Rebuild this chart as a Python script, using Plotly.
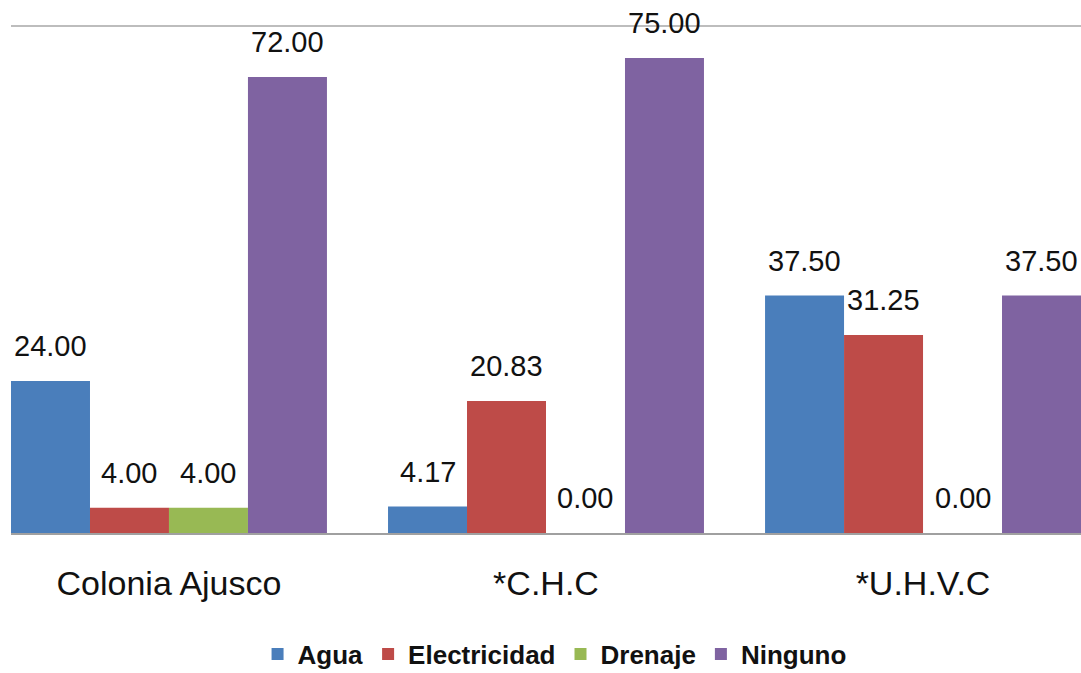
import plotly.graph_objects as go

categories = ["Colonia Ajusco", "*C.H.C", "*U.H.V.C"]
series_names = ["Agua", "Electricidad", "Drenaje", "Ninguno"]
agua = [24.00, 4.17, 37.50]
electricidad = [4.00, 20.83, 31.25]
drenaje = [4.00, 0.00, 0.00]
ninguno = [72.00, 75.00, 37.50]

series_values = [agua, electricidad, drenaje, ninguno]
colors = ["#4A7EBB", "#BE4B48", "#98B954", "#7F63A1"]

W, H = 1081, 673
ml, mr, mt, mb = 11, 0, 20, 140
plot_w = W - ml - mr
plot_h = H - mt - mb
bargap = 0.162
# x range so that the first bar starts at the left edge of the plot
half_group = (1 - bargap) / 2
xr = [-half_group, len(categories) - 1 + half_group]
px_per_cat = plot_w / (xr[1] - xr[0])
bar_px = px_per_cat * (1 - bargap) / len(series_names)

fig = go.Figure()
label_font = dict(family="Liberation Sans, Arial, sans-serif", size=29, color="#111111")
for i, (name, vals, col) in enumerate(zip(series_names, series_values, colors)):
    fig.add_trace(go.Bar(
        name=name, x=list(range(len(categories))), y=vals,
        marker=dict(color=col, line=dict(width=0)),
    ))
    for j, v in enumerate(vals):
        fig.add_annotation(
            x=j, y=v, text=f"{v:.2f}", showarrow=False,
            xref="x", yref="y", xanchor="center", yanchor="middle",
            xshift=(i - (len(series_names) - 1) / 2) * bar_px, yshift=35,
            font=label_font,
        )

fig.update_layout(
    width=W, height=H,
    margin=dict(l=ml, r=mr, t=mt, b=mb, pad=0, autoexpand=False),
    paper_bgcolor="white", plot_bgcolor="white",
    barmode="group", bargap=bargap, bargroupgap=0,
    showlegend=True,
    legend=dict(
        orientation="h", x=0.508, xanchor="center", y=-121 / plot_h, yanchor="middle",
        font=dict(family="Liberation Sans, Arial, sans-serif", size=26, color="#111111", weight="bold"),
        itemwidth=30, tracegroupgap=0,
    ),
    xaxis=dict(
        range=xr, tickmode="array", tickvals=list(range(len(categories))), ticktext=categories,
        showgrid=False, zeroline=False, showline=True, linecolor="#a0a0a0", linewidth=2,
        ticks="", ticklabelstandoff=19,
        tickfont=dict(family="Liberation Sans, Arial, sans-serif", size=34, color="#111111"),
    ),
    yaxis=dict(
        range=[0, 81], tickvals=[0, 80], showticklabels=False, showgrid=True,
        gridcolor="#bdbdbd", gridwidth=1.5, zeroline=False, showline=False, ticks="",
    ),
)
fig.update_traces(cliponaxis=False)

fig.write_html("out.html")
